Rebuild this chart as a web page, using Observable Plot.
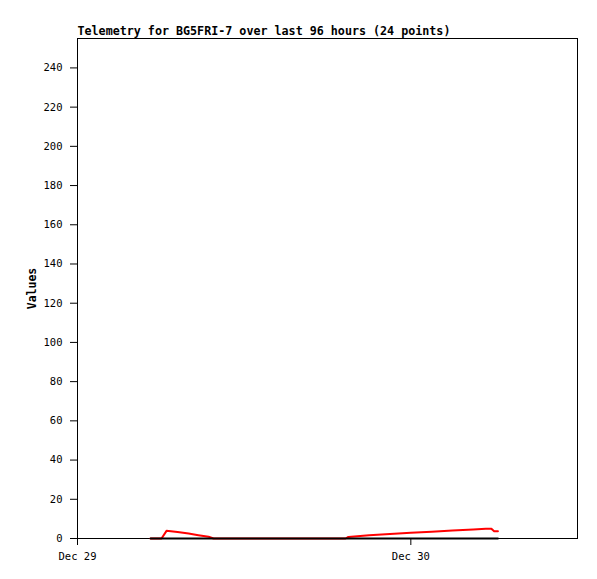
<!DOCTYPE html>
<html>
<head>
<meta charset="utf-8">
<script src="https://cdn.jsdelivr.net/npm/d3@7"></script>
<script src="https://cdn.jsdelivr.net/npm/@observablehq/plot@0.6"></script>
<style>
  html, body { margin: 0; padding: 0; background: #fff; }
  svg { display: block; }
</style>
</head>
<body>
<div id="chart"></div>
<script>
const titleText = "Telemetry for BG5FRI-7 over last 96 hours (24 points)";
const yLabel = "Values";
// times as hours after Dec 29 00:00
const hours = [5.26, 6.05, 6.41, 7.2, 8.0, 8.7, 9.44, 9.8, 10.5, 12.0, 15.0, 18.0, 19.3, 19.5, 21.0, 22.5, 24.0, 25.5, 27.0, 28.5, 29.4, 29.8, 30.0, 30.27];
const redValues = [0, 0, 3.9, 3.3, 2.5, 1.7, 0.9, 0, 0, 0, 0, 0, 0, 0.8, 1.6, 2.3, 2.9, 3.5, 4.1, 4.6, 5.0, 5.0, 3.7, 3.7];
const blackValues = [0, 0, 0, 0, 0, 0, 0, 0, 0, 0, 0, 0, 0, 0, 0, 0, 0, 0, 0, 0, 0, 0, 0, 0];
const yTicks = [0, 20, 40, 60, 80, 100, 120, 140, 160, 180, 200, 220, 240];
const xTickDates = ["2023-12-29T00:00:00Z", "2023-12-30T00:00:00Z"];
const xTickLabels = ["Dec 29", "Dec 30"];

const base = new Date("2023-12-29T00:00:00Z");
const toDate = h => new Date(base.getTime() + h * 3600e3);
const red = hours.map((h, i) => ({t: toDate(h), v: redValues[i]}));
const black = hours.map((h, i) => ({t: toDate(h), v: blackValues[i]}));
const xTicks = xTickDates.map(s => new Date(s));

const mono = "'DejaVu Sans Mono', 'Liberation Mono', monospace";

const chart = Plot.plot({
  width: 597,
  height: 579,
  marginLeft: 77,
  marginRight: 20,
  marginTop: 38,
  marginBottom: 41,
  style: {fontFamily: mono, fontSize: "10.5px", background: "#fff", color: "#000"},
  x: {type: "utc", domain: [new Date("2023-12-29T00:00:00Z"), new Date("2023-12-30T12:00:00Z")]},
  y: {domain: [0, 255]},
  marks: [
    Plot.frame({stroke: "#000", strokeWidth: 1}),
    Plot.axisY({ticks: yTicks, tickSize: 7, tickPadding: 8, label: null, fontSize: 10.5}),
    Plot.axisX({ticks: xTicks, tickSize: 7, tickPadding: 7, label: null, fontSize: 10.5,
      tickFormat: d => xTickLabels[xTicks.findIndex(x => +x === +d)]}),
    Plot.line(red, {x: "t", y: "v", stroke: "#ff0000", strokeWidth: 2, curve: "linear"}),
    Plot.line(black, {x: "t", y: "v", stroke: "#000", strokeWidth: 2, curve: "linear"}),
    Plot.text([titleText], {frameAnchor: "top-left", text: d => d, dy: -4, dx: 0,
      fontWeight: "bold", fontSize: 11.7, textAnchor: "start", lineAnchor: "bottom"}),
    Plot.text([yLabel], {frameAnchor: "left", text: d => d, rotate: -90, dx: -45,
      fontWeight: "bold", fontSize: 11.5, textAnchor: "middle"})
  ]
});
document.getElementById("chart").appendChild(chart);
</script>
</body>
</html>
